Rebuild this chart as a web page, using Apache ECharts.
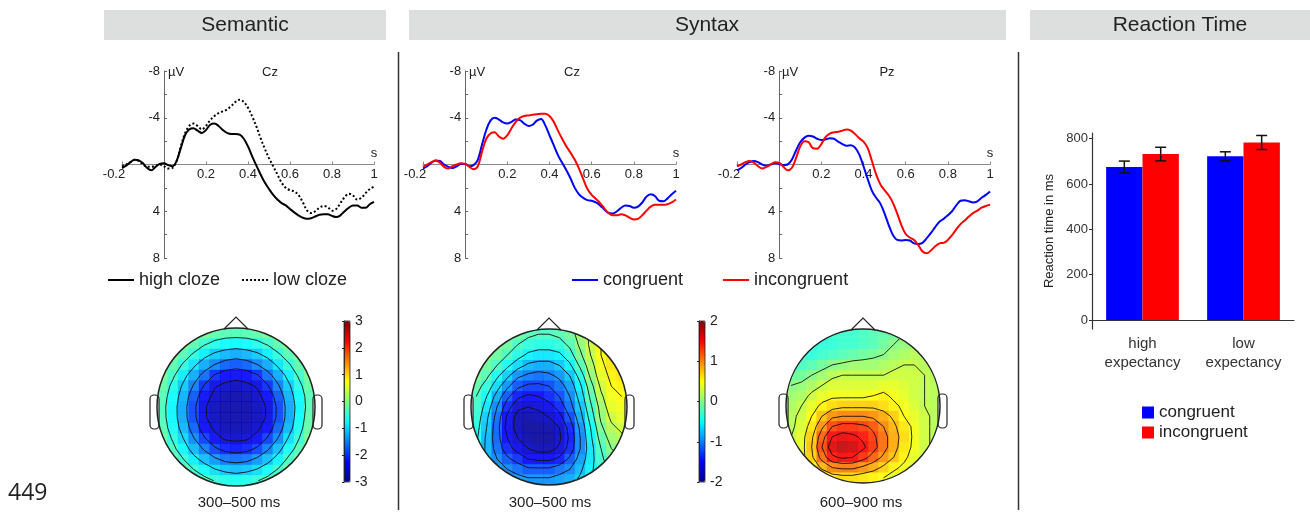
<!DOCTYPE html>
<html><head><meta charset="utf-8">
<script src="https://cdn.jsdelivr.net/npm/echarts@6/dist/echarts.min.js"></script>
<style>html,body{margin:0;padding:0;background:#fff}#c{width:1310px;height:512px}</style>
</head><body><div id="c"></div>
<script>
// ---------------- DATA ----------------
const times = [-0.2,-0.18,-0.16,-0.14,-0.12,-0.1,-0.08,-0.06,-0.04,-0.02,0,0.02,0.04,0.06,0.08,0.1,0.12,0.14,0.16,0.18,0.2,0.22,0.24,0.26,0.28,0.3,0.32,0.34,0.36,0.38,0.4,0.42,0.44,0.46,0.48,0.5,0.52,0.54,0.56,0.58,0.6,0.62,0.64,0.66,0.68,0.7,0.72,0.74,0.76,0.78,0.8,0.82,0.84,0.86,0.88,0.9,0.92,0.94,0.96,0.98,1];

// Semantic, Cz (µV)
const semHighCloze = [0.3,0.1,-0.2,-0.4,-0.35,-0.1,0.3,0.5,0.2,-0.05, -0.1,0.05,0.15,-0.3,-1.4,-2.5,-3.0,-3.1,-2.9,-2.7, -2.95,-3.4,-3.5,-3.3,-2.95,-2.7,-2.6,-2.6,-2.55,-2.2, -1.55,-0.7,0.1,0.85,1.55,2.1,2.6,3.0,3.3,3.5, 3.8,4.1,4.35,4.55,4.65,4.6,4.45,4.3,4.25,4.25, 4.4,4.5,4.35,4.0,3.7,3.5,3.5,3.7,3.7,3.4, 3.2];
const semLowCloze = [0.15,0.0,-0.2,-0.4,-0.3,0.0,0.2,0.2,0.1,0.0, 0.15,0.35,0.3,-0.3,-1.55,-2.65,-3.3,-3.5,-3.3,-3.0, -3.3,-3.8,-4.15,-4.4,-4.55,-4.7,-5.0,-5.35,-5.55,-5.35, -4.85,-4.1,-3.25,-2.25,-1.35,-0.55,0.15,0.85,1.55,2.0, 2.2,2.3,2.6,3.2,3.9,4.15,4.0,3.7,3.55,3.65, 3.95,3.8,3.3,2.8,2.5,2.65,3.0,2.85,2.45,2.1, 1.9];

// Syntax, Cz (µV)
const synCzCongruent = [0.35,0.15,-0.15,-0.35,-0.3,0,0.2,0.3,0.15,-0.05, -0.05,0.15,0.05,-0.4,-1.7,-2.95,-3.75,-4.0,-3.85,-3.6, -3.5,-3.65,-3.85,-3.8,-3.5,-3.3,-3.4,-3.75,-3.9,-3.35, -2.5,-1.65,-0.8,-0.15,0.5,1.2,2.0,2.55,2.85,3.05, 3.1,3.25,3.5,3.85,4.15,4.2,4.0,3.7,3.5,3.55, 3.7,3.6,3.25,2.75,2.55,2.7,3.1,3.15,2.9,2.55, 2.25];
const synCzIncongruent = [0.2,0,-0.2,-0.35,-0.15,0.2,0.35,0.15,0,-0.1, -0.05,0.2,0.4,0.15,-1.1,-2.2,-2.65,-2.75,-2.4,-2.2, -2.5,-3.1,-3.65,-4.0,-4.15,-4.2,-4.25,-4.3,-4.35,-4.35, -4.15,-3.65,-2.9,-2.2,-1.55,-1.0,-0.4,0.35,1.25,2.1, 2.6,2.95,3.3,3.75,4.15,4.35,4.35,4.25,4.35,4.55, 4.7,4.65,4.35,3.95,3.6,3.45,3.45,3.45,3.4,3.25, 3.0];

// Syntax, Pz (µV)
const synPzCongruent = [0.5,0.3,0,-0.2,-0.3,-0.2,0,0.1,0,-0.1, -0.05,0.05,0,-0.4,-1.2,-1.9,-2.3,-2.45,-2.4,-2.2, -2.1,-2.15,-2.25,-2.2,-1.95,-1.75,-1.6,-1.65,-1.45,-0.85, 0.15,1.25,2.25,2.85,3.35,4.2,5.2,6.05,6.45,6.5, 6.45,6.5,6.75,6.8,6.7,6.3,5.85,5.35,4.9,4.65, 4.35,4.0,3.5,3.1,3.05,3.15,3.25,3.15,2.85,2.6, 2.3];
const synPzIncongruent = [0.15,0,-0.2,-0.3,-0.15,0.15,0.35,0.2,0,-0.2, -0.15,0.2,0.5,0.3,-0.55,-1.55,-2.0,-1.9,-1.4,-1.35, -1.75,-2.35,-2.65,-2.75,-2.8,-2.9,-3.0,-2.9,-2.6,-2.25, -1.95,-1.4,-0.3,0.85,1.7,2.2,2.65,3.3,4.2,5.2, 5.95,6.25,6.45,6.9,7.45,7.6,7.35,7.0,6.75,6.7, 6.45,6.05,5.55,5.1,4.8,4.45,4.15,3.95,3.7,3.55, 3.45];

// Reaction times (ms)
const rtCategories = ['high\nexpectancy', 'low\nexpectancy'];
const rtCongruent = [675, 722];
const rtCongruentErr = [26, 20];
const rtIncongruent = [732, 783];
const rtIncongruentErr = [30, 31];

// Topographies (µV), 15x15 grid over the head, rows top(front) -> bottom(back)
const topoSemantic = [
 [0.2,0.17,0.1,0.0,-0.1,-0.25,-0.3,-0.32,-0.3,-0.25,-0.1,0.0,0.1,0.17,0.2],
 [0.15,0.1,-0.05,-0.25,-0.45,-0.62,-0.73,-0.76,-0.73,-0.62,-0.45,-0.25,-0.05,0.1,0.15],
 [0.1,-0.05,-0.3,-0.55,-0.85,-1.08,-1.2,-1.28,-1.2,-1.08,-0.85,-0.55,-0.3,-0.05,0.1],
 [0.03,-0.25,-0.55,-0.92,-1.28,-1.52,-1.73,-1.8,-1.73,-1.52,-1.28,-0.92,-0.55,-0.25,0.0],
 [-0.08,-0.42,-0.85,-1.28,-1.65,-2.05,-2.25,-2.33,-2.25,-2.05,-1.65,-1.28,-0.85,-0.42,-0.1],
 [-0.2,-0.62,-1.08,-1.55,-2.05,-2.45,-2.62,-2.7,-2.62,-2.45,-2.05,-1.55,-1.08,-0.62,-0.2],
 [-0.3,-0.73,-1.23,-1.78,-2.3,-2.65,-2.8,-2.82,-2.8,-2.65,-2.3,-1.78,-1.23,-0.73,-0.3],
 [-0.35,-0.8,-1.3,-1.9,-2.45,-2.72,-2.82,-2.84,-2.82,-2.72,-2.45,-1.9,-1.3,-0.8,-0.3],
 [-0.34,-0.79,-1.29,-1.88,-2.44,-2.72,-2.82,-2.84,-2.82,-2.72,-2.44,-1.88,-1.29,-0.75,-0.25],
 [-0.28,-0.7,-1.2,-1.73,-2.25,-2.6,-2.75,-2.8,-2.75,-2.6,-2.25,-1.73,-1.2,-0.65,-0.2],
 [-0.18,-0.55,-1.0,-1.48,-1.95,-2.33,-2.56,-2.6,-2.56,-2.33,-1.95,-1.48,-0.95,-0.5,-0.1],
 [-0.07,-0.38,-0.76,-1.2,-1.55,-1.92,-2.12,-2.2,-2.12,-1.92,-1.55,-1.15,-0.7,-0.3,0.0],
 [0.0,-0.18,-0.48,-0.85,-1.15,-1.4,-1.6,-1.65,-1.6,-1.4,-1.15,-0.8,-0.4,-0.1,0.1],
 [0.05,-0.05,-0.2,-0.48,-0.72,-0.95,-1.08,-1.15,-1.08,-0.95,-0.72,-0.45,-0.15,0.05,0.2],
 [0.1,0.05,-0.05,-0.15,-0.35,-0.52,-0.62,-0.66,-0.62,-0.52,-0.35,-0.15,0.05,0.2,0.25]
];
const topoSyntaxEarly = [
 [0.1,0.1,0.05,0,-0.1,-0.2,-0.25,-0.25,-0.2,-0.1,0.1,0.3,0.5,0.6,0.65],
 [0.1,0.05,0,-0.1,-0.25,-0.35,-0.4,-0.4,-0.35,-0.2,0.05,0.3,0.5,0.6,0.65],
 [0.05,0,-0.1,-0.25,-0.4,-0.55,-0.6,-0.6,-0.55,-0.35,-0.05,0.25,0.5,0.6,0.65],
 [0,-0.1,-0.25,-0.45,-0.65,-0.8,-0.85,-0.85,-0.75,-0.55,-0.2,0.15,0.45,0.6,0.65],
 [-0.05,-0.2,-0.45,-0.7,-0.95,-1.05,-1.1,-1.05,-0.95,-0.75,-0.4,0.05,0.4,0.55,0.6],
 [-0.15,-0.35,-0.65,-0.95,-1.2,-1.3,-1.3,-1.25,-1.1,-0.9,-0.55,-0.1,0.3,0.5,0.55],
 [-0.25,-0.5,-0.85,-1.2,-1.45,-1.55,-1.5,-1.4,-1.25,-1.0,-0.65,-0.2,0.2,0.45,0.5],
 [-0.3,-0.6,-1.0,-1.4,-1.7,-1.75,-1.7,-1.6,-1.4,-1.1,-0.75,-0.3,0.1,0.4,0.45],
 [-0.35,-0.7,-1.1,-1.55,-1.85,-1.9,-1.85,-1.75,-1.6,-1.25,-0.85,-0.4,0.05,0.3,0.4],
 [-0.4,-0.75,-1.15,-1.6,-1.85,-1.95,-1.95,-1.9,-1.75,-1.4,-0.95,-0.5,-0.05,0.2,0.3],
 [-0.45,-0.8,-1.15,-1.5,-1.75,-1.9,-1.95,-1.95,-1.8,-1.45,-1.0,-0.55,-0.15,0.1,0.2],
 [-0.5,-0.8,-1.1,-1.4,-1.6,-1.75,-1.85,-1.85,-1.7,-1.4,-1.0,-0.6,-0.25,0.0,0.1],
 [-0.55,-0.8,-1.0,-1.2,-1.35,-1.5,-1.55,-1.55,-1.45,-1.2,-0.9,-0.6,-0.3,-0.1,0.0],
 [-0.6,-0.75,-0.9,-1.0,-1.1,-1.2,-1.2,-1.2,-1.1,-1.0,-0.8,-0.55,-0.35,-0.2,-0.1],
 [-0.6,-0.7,-0.8,-0.85,-0.9,-0.95,-0.95,-0.95,-0.9,-0.85,-0.7,-0.5,-0.35,-0.25,-0.2]
];
const topoSyntaxLate = [
 [-0.3,-0.3,-0.3,-0.3,-0.3,-0.3,-0.3,-0.25,-0.2,-0.15,-0.1,0,0.05,0.1,0.1],
 [-0.3,-0.3,-0.35,-0.35,-0.35,-0.3,-0.3,-0.25,-0.2,-0.1,0,0.05,0.1,0.1,0.1],
 [-0.25,-0.3,-0.35,-0.3,-0.25,-0.2,-0.15,-0.1,-0.05,0.0,0.1,0.15,0.2,0.15,0.1],
 [-0.2,-0.25,-0.2,-0.1,0.0,0.05,0.1,0.1,0.1,0.15,0.2,0.25,0.25,0.2,0.15],
 [-0.1,-0.1,0.0,0.1,0.2,0.25,0.25,0.25,0.25,0.25,0.3,0.3,0.3,0.25,0.2],
 [0,0.05,0.15,0.25,0.35,0.35,0.35,0.35,0.35,0.4,0.4,0.35,0.3,0.25,0.2],
 [0.1,0.15,0.3,0.4,0.45,0.45,0.45,0.45,0.5,0.55,0.45,0.4,0.3,0.25,0.2],
 [0.15,0.25,0.4,0.55,0.65,0.7,0.7,0.7,0.7,0.65,0.55,0.45,0.35,0.25,0.2],
 [0.2,0.3,0.5,0.75,0.95,1.0,1.0,1.0,0.95,0.85,0.7,0.5,0.4,0.3,0.2],
 [0.2,0.35,0.6,0.95,1.25,1.35,1.35,1.3,1.2,1.0,0.8,0.6,0.45,0.3,0.2],
 [0.25,0.4,0.7,1.15,1.5,1.6,1.55,1.45,1.3,1.1,0.85,0.65,0.45,0.3,0.2],
 [0.25,0.4,0.75,1.25,1.65,1.75,1.7,1.55,1.35,1.1,0.85,0.6,0.45,0.3,0.2],
 [0.25,0.4,0.7,1.1,1.45,1.55,1.5,1.35,1.15,0.95,0.75,0.55,0.4,0.3,0.2],
 [0.2,0.35,0.55,0.8,1.0,1.05,1.05,0.95,0.85,0.7,0.55,0.45,0.35,0.25,0.2],
 [0.2,0.3,0.4,0.5,0.6,0.65,0.65,0.6,0.55,0.5,0.4,0.35,0.3,0.2,0.15]
];
const contourLevelsSemantic = [-2.5,-2,-1.5,-1,-0.5,0];
const contourLevelsSyntaxEarly = [-1.75,-1.5,-1.25,-1,-0.75,-0.5,-0.25,0,0.25,0.5];
const contourLevelsSyntaxLate = [0,0.25,0.5,0.75,1,1.25,1.5];
const colorbarSemanticRange = [-3, 3];
const colorbarSyntaxRange = [-2, 2];
const rtTicks = [0, 200, 400, 600, 800];

// ---------------- LAYOUT / STYLE ----------------
const FONT = '"Liberation Sans", Arial, Helvetica, sans-serif';
const JET = ['#00008f','#0000ff','#0080ff','#00ffff','#80ff80','#ffff00','#ff8000','#ff0000','#800000'];
const erpGrids = [
  {left:122, top:71, width:252, height:187},
  {left:423, top:71, width:253, height:187},
  {left:737, top:71, width:253, height:187}
];
const rtGrid = {left:1092, top:133, width:202, height:196};
const heads = [{cx:236, cy:407, R:79}, {cx:549, cy:407, R:78}, {cx:863, cy:406, R:77}];
const cbars = [{left:344, top:321, width:6, height:161}, {left:699, top:321, width:6, height:161}];
const X_RANGE = [-0.2, 1], Y_RANGE = [-8, 8];

const chart = echarts.init(document.getElementById('c'), null, {renderer:'canvas'});
const grid = [], xAxis = [], yAxis = [], series = [];

// ERP axes: lines cross at the origin (offset computed from the axis ranges)
erpGrids.forEach((g, i) => {
  grid.push(Object.assign({containLabel:false}, g));
  const yZeroFromBottom = (Y_RANGE[1] - 0) / (Y_RANGE[1] - Y_RANGE[0]);   // inverse axis
  const xZeroFromLeft = (0 - X_RANGE[0]) / (X_RANGE[1] - X_RANGE[0]);
  xAxis.push({gridIndex:i, type:'value', min:X_RANGE[0], max:X_RANGE[1], interval:0.2, position:'bottom',
    offset: -g.height * yZeroFromBottom,
    axisLine:{onZero:false, lineStyle:{color:'#8a8a8a', width:1}},
    axisTick:{inside:true, length:3, lineStyle:{color:'#8a8a8a'}},
    axisLabel:{margin:3, fontSize:13, color:'#222', fontFamily:FONT, showMinLabel:true, showMaxLabel:true,
      formatter: v => { if (Math.abs(v) < 1e-9) return ''; const s = String(+v.toFixed(1)); return v < -0.1 ? '{m|' + s + '}' : s; },
      rich:{m:{fontSize:13, color:'#222', fontFamily:FONT, padding:[0,16,0,0]}}},
    splitLine:{show:false}});
  yAxis.push({gridIndex:i, type:'value', min:Y_RANGE[0], max:Y_RANGE[1], interval:4, inverse:true, position:'left',
    offset: -g.width * xZeroFromLeft,
    axisLine:{onZero:false, lineStyle:{color:'#666', width:1}},
    axisTick:{inside:true, length:3, lineStyle:{color:'#666'}},
    minorTick:{show:true, splitNumber:2, length:3, lineStyle:{color:'#666'}},
    axisLabel:{margin:4, fontSize:13, color:'#222', fontFamily:FONT, formatter: v => Math.abs(v) < 1e-9 ? '' : String(v)},
    splitLine:{show:false}});
});

function erpLine(name, vals, gi, color, dash) {
  return {type:'line', name, xAxisIndex:gi, yAxisIndex:gi, data: times.map((t, k) => [t, vals[k]]),
    symbol:'none', smooth:0.35, silent:true, z:3,
    lineStyle:{color, width:2, type: dash || 'solid'}, itemStyle:{color}};
}
series.push(erpLine('high cloze', semHighCloze, 0, '#000'));
series.push(erpLine('low cloze', semLowCloze, 0, '#000', [2, 2.2]));
series.push(erpLine('congruent', synCzCongruent, 1, '#0000ff'));
series.push(erpLine('incongruent', synCzIncongruent, 1, '#ff0000'));
series.push(erpLine('congruent', synPzCongruent, 2, '#0000ff'));
series.push(erpLine('incongruent', synPzIncongruent, 2, '#ff0000'));

// Reaction time bars (grid 3)
grid.push(Object.assign({containLabel:false}, rtGrid));
xAxis.push({gridIndex:3, type:'category', data: rtCategories,
  axisLine:{lineStyle:{color:'#333', width:1.2}},
  axisTick:{alignWithLabel:true, length:3, lineStyle:{color:'#333'}},
  axisLabel:{fontSize:15, color:'#333', lineHeight:19, margin:5, fontFamily:FONT}});
yAxis.push({gridIndex:3, type:'value', min:-40, max:825,
  axisLine:{show:true, lineStyle:{color:'#333', width:1.2}},
  axisTick:{show:true, length:3, customValues: rtTicks, lineStyle:{color:'#333'}},
  axisLabel:{customValues: rtTicks, fontSize:13, color:'#333', margin:4, fontFamily:FONT},
  splitLine:{show:false},
  name:'Reaction time in ms', nameLocation:'middle', nameGap:36,
  nameTextStyle:{fontSize:13, color:'#222', fontFamily:FONT}});
series.push({type:'bar', name:'congruent', xAxisIndex:3, yAxisIndex:3, data: rtCongruent,
  barWidth:'36%', barGap:'0%', itemStyle:{color:'#0000ff'}, silent:true});
series.push({type:'bar', name:'incongruent', xAxisIndex:3, yAxisIndex:3, data: rtIncongruent,
  barWidth:'36%', barGap:'0%', itemStyle:{color:'#ff0000'}, silent:true});
function errRender(sign) {
  return function (params, api) {
    const c = api.value(0);
    const lo = api.coord([c, api.value(1)]);
    const hi = api.coord([c, api.value(2)]);
    const bw = api.size([1, 0])[0] * 0.36;
    const x = lo[0] + sign * bw / 2, cap = 5.5;
    const st = {stroke:'#111', lineWidth:1.5};
    return {type:'group', children:[
      {type:'line', shape:{x1:x, y1:lo[1], x2:x, y2:hi[1]}, style:st},
      {type:'line', shape:{x1:x-cap, y1:lo[1], x2:x+cap, y2:lo[1]}, style:st},
      {type:'line', shape:{x1:x-cap, y1:hi[1], x2:x+cap, y2:hi[1]}, style:st}
    ]};
  };
}
series.push({type:'custom', xAxisIndex:3, yAxisIndex:3, silent:true, z:5, encode:{x:0, y:[1,2]},
  data: rtCongruent.map((m, i) => [i, m - rtCongruentErr[i], m + rtCongruentErr[i]]), renderItem: errRender(-1)});
series.push({type:'custom', xAxisIndex:3, yAxisIndex:3, silent:true, z:5, encode:{x:0, y:[1,2]},
  data: rtIncongruent.map((m, i) => [i, m - rtIncongruentErr[i], m + rtIncongruentErr[i]]), renderItem: errRender(1)});

// Topographies (grids 4,5,6): heatmap cells + contour lines (marching squares on the same grid)
const idx15 = Array.from({length:15}, (_, i) => String(i));
function contourRender(mat) {
  return function (params, api) {
    const level = api.value(2);
    const P = (c, r) => api.coord([c, r]);
    const kids = [];
    for (let r = 0; r < mat.length - 1; r++) {
      for (let c = 0; c < mat[0].length - 1; c++) {
        const corners = [[c, r], [c + 1, r], [c + 1, r + 1], [c, r + 1]];
        const v = [mat[r][c], mat[r][c + 1], mat[r + 1][c + 1], mat[r + 1][c]];
        const pts = [];
        for (let e = 0; e < 4; e++) {
          const a = v[e], b = v[(e + 1) % 4];
          if ((a < level) !== (b < level)) {
            const t = (level - a) / (b - a);
            const p0 = P(corners[e][0], corners[e][1]), p1 = P(corners[(e + 1) % 4][0], corners[(e + 1) % 4][1]);
            pts.push([p0[0] + t * (p1[0] - p0[0]), p0[1] + t * (p1[1] - p0[1])]);
          }
        }
        const st = {stroke:'#111', lineWidth:0.9};
        if (pts.length >= 2) kids.push({type:'line', shape:{x1:pts[0][0], y1:pts[0][1], x2:pts[1][0], y2:pts[1][1]}, style:st});
        if (pts.length === 4) kids.push({type:'line', shape:{x1:pts[2][0], y1:pts[2][1], x2:pts[3][0], y2:pts[3][1]}, style:st});
      }
    }
    return {type:'group', children:kids};
  };
}
[[topoSemantic, contourLevelsSemantic], [topoSyntaxEarly, contourLevelsSyntaxEarly], [topoSyntaxLate, contourLevelsSyntaxLate]].forEach((pair, k) => {
  const m = pair[0], h = heads[k], gi = 4 + k;
  grid.push({left:h.cx - h.R, top:h.cy - h.R, width:2*h.R, height:2*h.R, containLabel:false});
  xAxis.push({gridIndex:gi, type:'category', data:idx15, show:false});
  yAxis.push({gridIndex:gi, type:'category', data:idx15, show:false, inverse:true});
  const cells = [];
  m.forEach((row, r) => row.forEach((v, c) => cells.push([c, r, v])));
  series.push({type:'heatmap', xAxisIndex:gi, yAxisIndex:gi, data:cells, silent:true,
    itemStyle:{opacity:0.9}, emphasis:{disabled:true}});
});
[[topoSemantic, contourLevelsSemantic], [topoSyntaxEarly, contourLevelsSyntaxEarly], [topoSyntaxLate, contourLevelsSyntaxLate]].forEach((pair, k) => {
  const gi = 4 + k;
  series.push({type:'custom', xAxisIndex:gi, yAxisIndex:gi, silent:true, z:4, clip:false,
    encode:{x:0, y:1}, data: pair[1].map(l => [0, 0, l]), renderItem: contourRender(pair[0])});
});

// Colorbar axes (grids 7,8)
[colorbarSemanticRange, colorbarSyntaxRange].forEach((t, k) => {
  const gi = 7 + k;
  grid.push(Object.assign({containLabel:false}, cbars[k]));
  xAxis.push({gridIndex:gi, type:'value', show:false, min:0, max:1});
  yAxis.push({gridIndex:gi, type:'value', position:'right', min:t[0], max:t[1], interval:1, z:60,
    axisLine:{show:true, lineStyle:{color:'#222', width:0.8}},
    axisTick:{show:true, inside:true, length:2, lineStyle:{color:'#222'}},
    axisLabel:{margin:5, fontSize:14, color:'#222', fontFamily:FONT},
    splitLine:{show:false}});
});

// ---------------- GRAPHIC DECORATION ----------------
const graphic = [];
const txt = (x, y, text, size, align, extra) => ({type:'text', x, y, z:70, silent:true,
  style:Object.assign({text, font: size + 'px ' + FONT, fill:'#222', align: align || 'left', verticalAlign:'middle'}, extra || {})});
[[104, 282, 'Semantic', 245], [409, 597, 'Syntax', 707], [1030, 280, 'Reaction Time', 1180]].forEach(h => {
  graphic.push({type:'rect', shape:{x:h[0], y:10, width:h[1], height:30}, style:{fill:'#dddede'}, z:1, silent:true});
  graphic.push(txt(h[3], 25, h[2], 21, 'center'));
});
[398.5, 1018.5].forEach(x => graphic.push({type:'line', shape:{x1:x, y1:52, x2:x, y2:510}, style:{stroke:'#333', lineWidth:1.5}, z:1, silent:true}));
graphic.push(txt(8, 493, '449', 23, 'left', {font:'23px "Open Sans", "DejaVu Sans", sans-serif'}));
[[168, 270, 374, 'Cz'], [469, 572, 676, 'Cz'], [782, 887, 990, 'Pz']].forEach(p => {
  graphic.push(txt(p[0], 72, 'µV', 13, 'left'));
  graphic.push(txt(p[1], 72, p[3], 13, 'center'));
  graphic.push(txt(p[2], 153, 's', 13, 'center'));
});
heads.forEach(h => {
  graphic.push({type:'ring', shape:{cx:h.cx, cy:h.cy, r:h.R*1.43, r0:h.R}, style:{fill:'#fff'}, z:50, silent:true});
  graphic.push({type:'rect', shape:{x:h.cx - h.R - 7, y:h.cy - 12, width:9, height:34, r:4}, style:{fill:'#fff', stroke:'#222', lineWidth:1.2}, z:65, silent:true});
  graphic.push({type:'rect', shape:{x:h.cx + h.R - 2, y:h.cy - 12, width:9, height:34, r:4}, style:{fill:'#fff', stroke:'#222', lineWidth:1.2}, z:65, silent:true});
  graphic.push({type:'circle', shape:{cx:h.cx, cy:h.cy, r:h.R}, style:{fill:null, stroke:'#222', lineWidth:1.5}, z:70, silent:true});
  graphic.push({type:'polyline', shape:{points:[[h.cx-12, h.cy-h.R+1], [h.cx, h.cy-h.R-11], [h.cx+12, h.cy-h.R+1]]}, style:{fill:null, stroke:'#222', lineWidth:1.2}, z:70, silent:true});
});
graphic.push(txt(239, 503, '300–500 ms', 15, 'center'));
graphic.push(txt(550, 503, '300–500 ms', 15, 'center'));
graphic.push(txt(861, 503, '600–900 ms', 15, 'center'));
cbars.forEach(b => graphic.push({type:'rect', shape:{x:b.left, y:b.top, width:b.width, height:b.height}, style:{fill:null, stroke:'#222', lineWidth:0.8}, z:70, silent:true}));

const SOLID_ICON = 'path://M0 0H26V2H0Z';
const DOT_ICON = 'path://M0 0h2v2h-2z M4 0h2v2h-2z M8 0h2v2h-2z M12 0h2v2h-2z M16 0h2v2h-2z M20 0h2v2h-2z M24 0h2v2h-2z';

const option = {
  animation:false,
  textStyle:{fontFamily:FONT},
  grid, xAxis, yAxis, series, graphic,
  legend:[
    {data:[{name:'high cloze', icon:SOLID_ICON}, {name:'low cloze', icon:DOT_ICON}], left:103, top:266, itemWidth:26, itemHeight:2, itemGap:22, padding:5, selectedMode:false,
      textStyle:{fontSize:18, color:'#222', fontFamily:FONT}},
    {data:[{name:'congruent', icon:SOLID_ICON}, {name:'incongruent', icon:SOLID_ICON}], left:567, top:266, itemWidth:26, itemHeight:2, itemGap:40, padding:5, selectedMode:false,
      textStyle:{fontSize:18, color:'#222', fontFamily:FONT}},
    {data:[{name:'congruent', icon:'rect'}, {name:'incongruent', icon:'rect'}], orient:'vertical', left:1137, top:399,
      itemWidth:12, itemHeight:12, itemGap:3, padding:5, selectedMode:false,
      textStyle:{fontSize:17, color:'#222', fontFamily:FONT}}
  ],
  visualMap:[
    {type:'continuous', min:colorbarSemanticRange[0], max:colorbarSemanticRange[1], seriesIndex:10, calculable:false, show:true, left:cbars[0].left, top:cbars[0].top,
      itemWidth:cbars[0].width, itemHeight:cbars[0].height, padding:0, inRange:{color:JET}, z:55, hoverLink:false},
    {type:'continuous', min:colorbarSyntaxRange[0], max:colorbarSyntaxRange[1], seriesIndex:[11,12], calculable:false, show:true, left:cbars[1].left, top:cbars[1].top,
      itemWidth:cbars[1].width, itemHeight:cbars[1].height, padding:0, inRange:{color:JET}, z:55, hoverLink:false}
  ]
};
chart.setOption(option);
</script>
</body></html>
